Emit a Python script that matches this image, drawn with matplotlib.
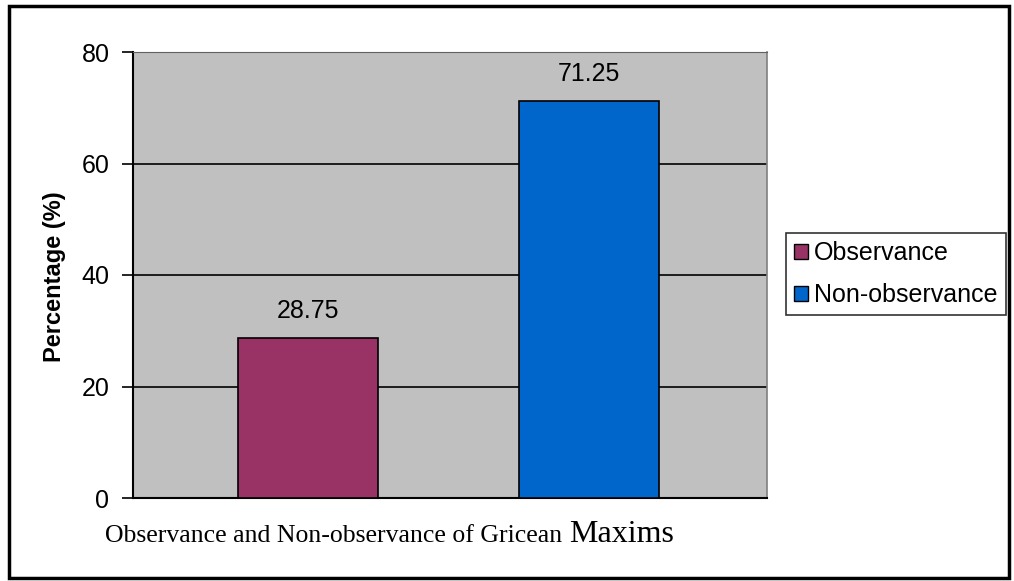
import matplotlib
matplotlib.use("Agg")
import matplotlib.pyplot as plt
from matplotlib.patches import Rectangle, Patch

series = ["Observance", "Non-observance"]
values = [28.75, 71.25]
colors = ["#993366", "#0066CC"]
yticks = [0, 20, 40, 60, 80]

W, H = 1014, 581
fig = plt.figure(figsize=(W / 100, H / 100), dpi=100)
plt.rcParams['font.family'] = ['Liberation Sans', 'DejaVu Sans']

# axes in pixel coords: left 133, right 767, top 52, bottom 498
ax = fig.add_axes([133 / W, 1 - 498 / H, (767 - 133) / W, (498 - 52) / H])
ax.set_facecolor("#C0C0C0")

xs = [0, 1]
bars = ax.bar(xs, values, width=0.498, color=colors, edgecolor="black", linewidth=1.2, zorder=3)
for x, v in zip(xs, values):
    ax.text(x, v + 2.6, f"{v:.2f}", ha="center", va="bottom", fontsize=18, color="black")

ax.set_xlim(-0.623, 1.633)
ax.set_ylim(0, 80)
ax.set_yticks(yticks)
ax.set_yticklabels([str(t) for t in yticks], fontsize=18)
ax.yaxis.grid(True, color="black", linewidth=1.2, zorder=1)
ax.set_axisbelow(True)
ax.set_xticks([])
ax.tick_params(axis="y", direction="out", length=8, width=1.2, pad=9)

ax.spines["left"].set_linewidth(1.5)
ax.spines["bottom"].set_linewidth(1.5)
ax.spines["top"].set_color("#606060")
ax.spines["right"].set_color("#808080")
ax.spines["right"].set_linewidth(1.2)

fig.text(55 / W, 1 - 277 / H, "Percentage (%)", fontsize=17, fontweight="bold",
         rotation=90, ha="center", va="center")

handles = [Patch(facecolor=c, edgecolor="black", label=s) for c, s in zip(colors, series)]
leg = fig.legend(handles=handles, loc="upper left", bbox_to_anchor=(786 / W, 1 - 233 / H),
                 frameon=True, fancybox=False, fontsize=18, handlelength=0.55, handleheight=0.55,
                 handletextpad=0.25, borderpad=0.32, labelspacing=0.72, borderaxespad=0)
leg.get_frame().set_edgecolor("black")
leg.get_frame().set_linewidth(1.2)

# x-axis title (serif, "Maxims" larger)
t1 = fig.text(105 / W, 1 - 536 / H, "Observance and Non-observance of Gricean ",
              fontsize=18.5, family="Liberation Serif", va="center", ha="left")
fig.canvas.draw()
r = fig.canvas.get_renderer()
bb = t1.get_window_extent(r)
fig.text(bb.x1 / W, 1 - 535 / H, "Maxims", fontsize=23, family="Liberation Serif",
         va="center", ha="left")

# outer border
fig.add_artist(Rectangle((9 / W, 3 / H), (1009 - 9) / W, (575 - 3) / H,
                         transform=fig.transFigure, fill=False, edgecolor="black", linewidth=2.5))

fig.savefig("out.png", dpi=100)
